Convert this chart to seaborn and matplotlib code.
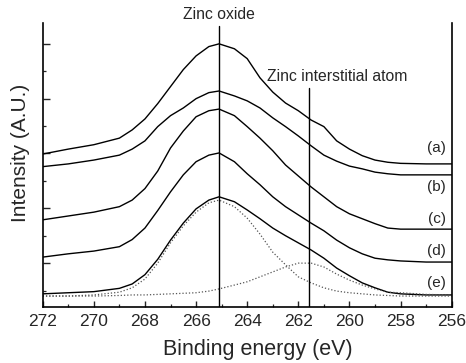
import matplotlib
matplotlib.use("Agg")
import matplotlib.pyplot as plt
from matplotlib.ticker import MultipleLocator, NullFormatter
import seaborn as sns
import pandas as pd

# ---- data (binding energy in eV, intensity in arbitrary units) ----
energy = [272, 271, 270, 269, 268.5, 268, 267.5, 267, 266.5, 266, 265.5, 265.1,
          264.5, 264, 263.5, 263, 262.5, 262, 261.5, 261, 260.5, 260, 259.5,
          259, 258.5, 258, 257, 256]

curve_a = [29.9, 30.8, 31.6, 32.8, 34.3, 36.3, 39.1, 42.2, 45.3, 47.8, 49.5, 50.0,
           49.1, 47.3, 43.8, 41.2, 39.2, 37.8, 36.1, 34.9, 32.3, 30.8, 29.6,
           28.8, 28.4, 28.2, 28.1, 28.1]
curve_b = [27.6, 28.1, 28.8, 29.7, 30.8, 32.3, 34.9, 36.9, 38.3, 40.0, 41.1, 41.4,
           40.5, 39.6, 38.3, 36.5, 34.9, 33.2, 31.4, 29.7, 28.6, 27.7, 27.2,
           26.6, 26.3, 26.1, 26.1, 26.1]
curve_c = [17.9, 18.6, 19.3, 20.3, 21.5, 23.6, 26.8, 31.0, 34.1, 36.7, 37.8, 38.1,
           36.9, 34.9, 32.8, 30.5, 27.9, 25.9, 23.9, 22.1, 20.3, 19.0, 18.1,
           17.2, 16.4, 16.2, 16.2, 16.2]
curve_d = [11.1, 11.7, 12.2, 13.0, 14.3, 16.4, 19.6, 23.0, 26.1, 28.5, 29.7, 30.1,
           28.5, 26.3, 24.3, 22.1, 20.3, 18.8, 17.3, 15.9, 14.2, 12.8, 11.7,
           10.9, 10.6, 10.4, 10.2, 10.2]
curve_e = [4.4, 4.6, 4.8, 5.4, 6.2, 7.9, 10.7, 14.2, 17.3, 19.9, 21.5, 22.1,
           21.2, 19.7, 18.1, 16.4, 15.0, 13.7, 12.4, 10.9, 9.1, 7.7, 6.4,
           5.5, 4.7, 4.4, 4.2, 4.2]
fit_zno = [4.0, 4.0, 4.2, 4.7, 5.5, 7.1, 10.0, 13.7, 16.8, 19.3, 21.0, 21.5,
           20.3, 18.2, 15.3, 12.0, 9.7, 7.5, 6.4, 5.5, 4.9, 4.6, 4.4,
           4.2, 4.1, 4.0, 4.0, 4.0]
fit_zni = [4.0, 4.0, 4.0, 4.1, 4.2, 4.2, 4.3, 4.4, 4.5, 4.6, 4.9, 5.3,
           6.0, 6.6, 7.5, 8.4, 9.3, 10.0, 10.0, 9.3, 8.0, 6.9, 6.0,
           5.3, 4.7, 4.6, 4.3, 4.2]

curve_labels = ["(a)", "(b)", "(c)", "(d)", "(e)"]
label_y = [31.0, 23.9, 18.1, 12.2, 6.4]
zno_energy = 265.1
zni_energy = 261.6

sns.set_style("ticks")
plt.rcParams["font.family"] = ["Liberation Sans", "DejaVu Sans"]

fig = plt.figure(figsize=(4.66, 3.63), dpi=100)
ax = fig.add_axes([42.7 / 466, 56 / 363, 409 / 466, 284 / 363])

solid = {"a": curve_a, "b": curve_b, "c": curve_c, "d": curve_d, "e": curve_e}
for key, vals in solid.items():
    df = pd.DataFrame({"E": energy, "I": vals})
    sns.lineplot(data=df, x="E", y="I", ax=ax, color="black", linewidth=1.0,
                 estimator=None, sort=False)
for vals in (fit_zno, fit_zni):
    df = pd.DataFrame({"E": energy, "I": vals})
    sns.lineplot(data=df, x="E", y="I", ax=ax, color="#555555", linewidth=0.9,
                 linestyle=(0, (1, 1.6)), estimator=None, sort=False)

ax.set_xlim(272, 256)
ax.set_ylim(2.0, 53.8)

ax.axvline(zno_energy, ymin=0, ymax=(53.2 - 2.0) / 51.8, color="black", linewidth=1.0)
ax.axvline(zni_energy, ymin=0, ymax=(42.0 - 2.0) / 51.8, color="black", linewidth=1.0)

ax.text(zno_energy, 55.3, "Zinc oxide", ha="center", va="center", fontsize=11.3)
ax.text(260.49, 44.0, "Zinc interstitial atom", ha="center", va="center", fontsize=11.3)
for lab, yy in zip(curve_labels, label_y):
    ax.text(256.22, yy, lab, ha="right", va="center", fontsize=11)

ax.spines["top"].set_visible(False)
for s in ("left", "bottom", "right"):
    ax.spines[s].set_linewidth(1.2)
    ax.spines[s].set_color("black")

ax.xaxis.set_major_locator(MultipleLocator(2))
ax.xaxis.set_minor_locator(MultipleLocator(1))
ax.yaxis.set_major_locator(MultipleLocator(10))
ax.yaxis.set_minor_locator(MultipleLocator(5))
ax.yaxis.set_major_formatter(NullFormatter())
ax.tick_params(axis="x", which="major", direction="in", length=4, width=1.0,
               labelsize=12.5, pad=5, top=False)
ax.tick_params(axis="x", which="minor", direction="in", length=2, width=0.9, top=False)
ax.tick_params(axis="y", which="major", direction="in", length=5, width=1.0,
               right=False, labelleft=False)
ax.tick_params(axis="y", which="minor", direction="in", length=2.5, width=0.9,
               right=False)

ax.set_xlabel("Binding energy (eV)", fontsize=15.5)
ax.set_ylabel("Intensity (A.U.)", fontsize=15)
ax.xaxis.set_label_coords(0.526, -0.113)
ax.yaxis.set_label_coords(-0.03, 0.542)

fig.savefig("out.png", dpi=100)
